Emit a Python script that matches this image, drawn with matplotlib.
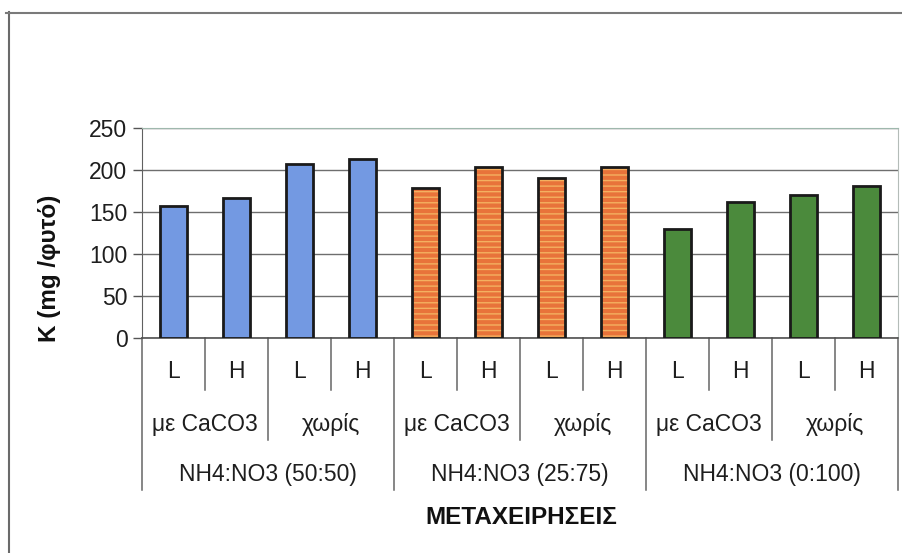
import matplotlib
matplotlib.use("Agg")
import matplotlib.pyplot as plt
from matplotlib.lines import Line2D
import matplotlib.transforms as mtransforms

plt.rcParams['font.family'] = ['Liberation Sans', 'DejaVu Sans']

# Data
levels = ["L", "H", "L", "H"] * 3
subgroups = ["με CaCO3", "χωρίς"] * 3
groups = ["NH4:NO3 (50:50)", "NH4:NO3 (25:75)", "NH4:NO3 (0:100)"]
k_50_50 = [157, 167, 207, 213]
k_25_75 = [179, 204, 190, 204]
k_0_100 = [130, 162, 170, 181]
y_ticks = [0, 50, 100, 150, 200, 250]
y_label = "K (mg /φυτό)"
x_label = "ΜΕΤΑΧΕΙΡΗΣΕΙΣ"

W, H = 903, 553
fig = plt.figure(figsize=(W / 100, H / 100), dpi=100)
fig.patch.set_facecolor("white")

left, right, top, bottom = 142, 898, 128, 338
ax = fig.add_axes([left / W, 1 - bottom / H, (right - left) / W, (bottom - top) / H])

series = [
    (k_50_50, "#7399e2", None, None),
    (k_25_75, "#e8733a", "---", "#f4b060"),
    (k_0_100, "#4b8a3c", None, None),
]
bw = 0.44
for gi, (vals, color, hatch, hcolor) in enumerate(series):
    xs = [gi * 4 + i for i in range(len(vals))]
    if hatch:
        ax.bar(xs, vals, width=bw, color=color, hatch=hatch, edgecolor=hcolor,
               linewidth=0, zorder=3)
        ax.bar(xs, vals, width=bw, fill=False, edgecolor="#1a1a1a",
               linewidth=2.0, zorder=4)
    else:
        ax.bar(xs, vals, width=bw, color=color, edgecolor="#1a1a1a",
               linewidth=2.0, zorder=3)

n = len(levels)
fs = 16.5
ax.set_xlim(-0.5, n - 0.5)
ax.set_ylim(0, 250)
ax.set_yticks(y_ticks)
ax.set_yticklabels([str(v) for v in y_ticks], fontsize=fs, color="#1e1e1e")
ax.tick_params(axis="y", length=6.5, width=1, color="#555555", pad=4)
ax.set_xticks([])
ax.yaxis.grid(True, color="#6e6e6e", linewidth=1.0, zorder=0)
ax.set_axisbelow(True)

ax.spines["left"].set_color("#606060")
ax.spines["bottom"].set_color("#505050")
ax.spines["bottom"].set_linewidth(1.2)
ax.spines["right"].set_color("#b4bcb8")
ax.spines["top"].set_color("#9fb8ad")

# Multi-level category axis below the plot
h = bottom - top
trans = mtransforms.blended_transform_factory(ax.transData, ax.transAxes)
lvl1 = -52 / h
lvl2 = -102 / h
lvl3 = -152 / h
sep_col = "#666666"
for b in range(n + 1):
    x = b - 0.5
    if b % 4 == 0:
        y_end = lvl3
    elif b % 2 == 0:
        y_end = lvl2
    else:
        y_end = lvl1
    ax.add_line(Line2D([x, x], [0, y_end], transform=trans, color=sep_col,
                       linewidth=1.1, clip_on=False))

for i, lab in enumerate(levels):
    ax.text(i, -33.5 / h, lab, transform=trans, ha="center", va="center",
            fontsize=fs, color="#1e1e1e")
for j, lab in enumerate(subgroups):
    ax.text(j * 2 + 0.5, -87 / h, lab, transform=trans, ha="center",
            va="center", fontsize=fs, color="#1e1e1e")
for g, lab in enumerate(groups):
    ax.text(g * 4 + 1.5, -136 / h, lab, transform=trans, ha="center",
            va="center", fontsize=fs, color="#1e1e1e")

fig.text(521 / W, 1 - 518 / H, x_label, ha="center", va="center",
         fontsize=17.5, fontweight="bold", color="#111111")
fig.text(50 / W, 1 - 268 / H, y_label, ha="center", va="center",
         rotation=90, fontsize=17.5, fontweight="bold", color="#111111")

# Outer frame (left and top edges)
fig.add_artist(Line2D([9 / W, 9 / W], [0, 1 - 12 / H], transform=fig.transFigure,
                      color="#6a6a6a", linewidth=1.5))
fig.add_artist(Line2D([6 / W, 1], [1 - 12.5 / H, 1 - 12.5 / H],
                      transform=fig.transFigure, color="#7a7a7a", linewidth=1.5))

fig.savefig("out.png", dpi=100, facecolor="white")
